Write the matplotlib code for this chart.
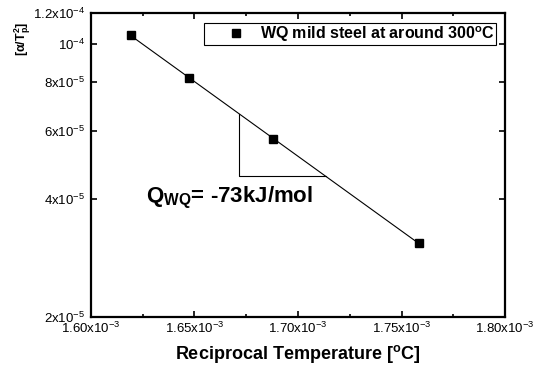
import numpy as np
import matplotlib
matplotlib.use('Agg')
import matplotlib.pyplot as plt

plt.rcParams['font.family'] = ['Liberation Sans', 'DejaVu Sans']
plt.rcParams['mathtext.default'] = 'regular'

# data
inv_temp = [1.6193e-3, 1.6473e-3, 1.6879e-3, 1.7585e-3]
alpha_t2 = [1.054e-4, 8.18e-5, 5.71e-5, 3.09e-5]
series_label = r'WQ mild steel at around 300$^{o}$C'
q_label = r'Q$_{WQ}$= -73kJ/mol'

x_ticks = [1.60e-3, 1.65e-3, 1.70e-3, 1.75e-3, 1.80e-3]
x_ticklabels = [r'1.60x10$^{-3}$', r'1.65x10$^{-3}$', r'1.70x10$^{-3}$',
                r'1.75x10$^{-3}$', r'1.80x10$^{-3}$']
y_ticks = [2e-5, 4e-5, 6e-5, 8e-5, 1e-4, 1.2e-4]
y_ticklabels = [r'2x10$^{-5}$', r'4x10$^{-5}$', r'6x10$^{-5}$',
                r'8x10$^{-5}$', r'10$^{-4}$', r'1.2x10$^{-4}$']
tri_x = [1.6715e-3, 1.7135e-3]

fig = plt.figure(figsize=(5.34, 3.75), dpi=100)
ax = fig.add_axes([0.1704, 0.1547, 0.7753, 0.8107])
ax.set_yscale('log')

# fit of log(y) against 1/T
x = np.array(inv_temp)
coef = np.polyfit(x, np.log10(alpha_t2), 1)
fit = lambda v: 10 ** np.polyval(coef, v)
xf = np.array([x.min(), x.max()])
ax.plot(xf, fit(xf), color='black', lw=0.8, zorder=2)

ax.plot(inv_temp, alpha_t2, 's', color='black', ms=6, label=series_label, zorder=3)

# slope triangle
ax.plot([tri_x[0], tri_x[0], tri_x[1]], [fit(tri_x[0]), fit(tri_x[1]), fit(tri_x[1])],
        color='black', lw=0.8)

ax.text(0.133, 0.378, q_label, transform=ax.transAxes, fontsize=16,
        fontweight='bold', ha='left', va='baseline')

ax.set_xlim(1.60e-3, 1.80e-3)
ax.set_ylim(2e-5, 1.2e-4)
ax.set_xticks(x_ticks)
ax.set_xticklabels(x_ticklabels)
ax.set_xticks(np.arange(1.625e-3, 1.80e-3, 0.05e-3), minor=True)
ax.set_yticks(y_ticks)
ax.set_yticklabels(y_ticklabels)
ax.yaxis.set_minor_locator(matplotlib.ticker.NullLocator())

for s in ax.spines.values():
    s.set_linewidth(1.6)
ax.tick_params(which='both', direction='in', top=True, right=True, width=1.2, labelsize=9.5)
ax.tick_params(which='major', length=4.5)
ax.tick_params(which='minor', length=2.5)
ax.tick_params(axis='x', pad=3)
ax.tick_params(axis='y', pad=4)

ax.set_xlabel(r'Reciprocal Temperature [$^{o}$C]', fontsize=13, fontweight='bold', labelpad=5)
ax.set_ylabel(r'$[\alpha/T_{p}^{2}]$', fontsize=9, fontweight='bold')
ax.yaxis.set_label_coords(-0.14, 0.915)

leg = ax.legend(loc='upper right', bbox_to_anchor=(0.978, 0.968), borderaxespad=0,
                fancybox=False, edgecolor='black', framealpha=1,
                prop={'weight': 'bold', 'size': 11.5}, handlelength=3.8,
                handletextpad=-0.4, borderpad=0.1, labelspacing=0)
leg.get_frame().set_linewidth(0.8)

fig.savefig('out.png', dpi=100)
